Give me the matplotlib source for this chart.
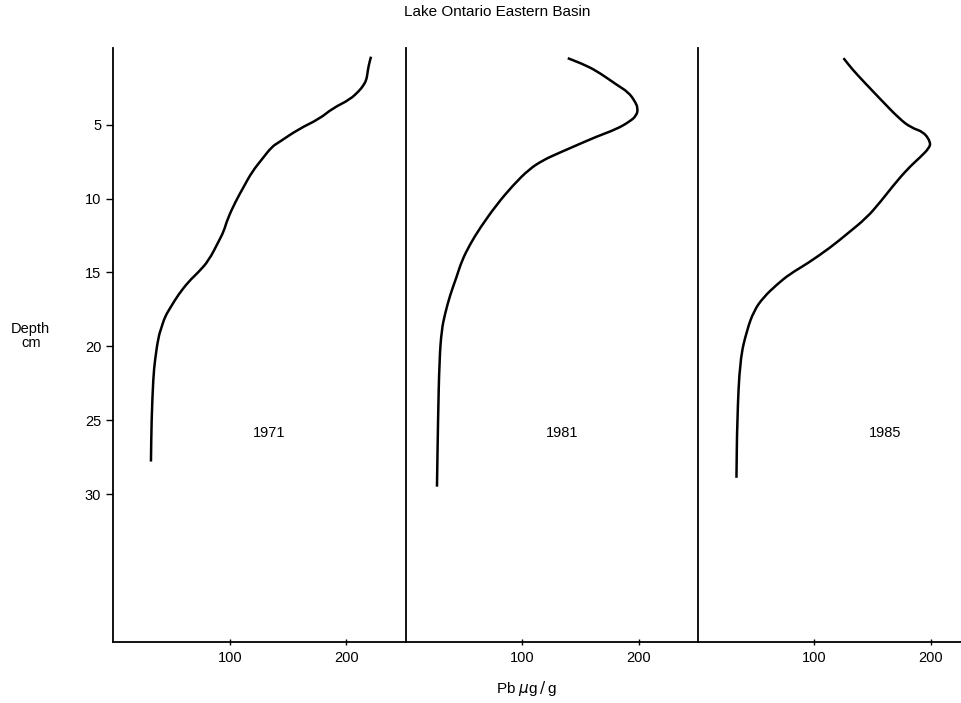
import numpy as np
import matplotlib.pyplot as plt
from matplotlib.path import Path
from matplotlib.patches import PathPatch

plt.rcParams['font.family'] = ['Liberation Sans', 'DejaVu Sans']

# Pb (ug/g) vs depth (cm)
pb_1971 = [221, 219, 218, 217, 214, 211, 203, 188, 177, 159, 142, 136, 128, 119, 112, 105, 98, 95,
           90.5, 82, 73, 65, 56, 49, 44.5, 41.6, 38.8, 36, 34.5, 33, 32.5]
depth_1971 = [0.4, 1.0, 1.5, 2.0, 2.4, 2.7, 3.3, 3.9, 4.6, 5.3, 6.2, 6.5, 7.3, 8.2, 9.2, 10.2, 11.4, 12.2,
              12.9, 14.2, 15.0, 15.6, 16.5, 17.4, 18.0, 18.7, 19.4, 20.9, 22.1, 25.0, 27.8]

pb_1981 = [139, 155, 166.5, 181, 191, 196.6, 199.4, 198, 192, 181, 164, 143.6, 129, 118, 106,
           92, 78, 63.5, 55, 48, 43.5, 38, 33.5, 30.6, 28.7, 27.5, 26.6]
depth_1981 = [0.5, 1.0, 1.5, 2.3, 2.8, 3.4, 3.9, 4.4, 4.8, 5.3, 5.8, 6.5, 7.0, 7.4, 8.0,
              9.1, 10.4, 12.0, 13.1, 14.2, 15.3, 16.5, 17.8, 18.9, 20.9, 25.0, 29.5]

pb_1985 = [125, 132.5, 142.5, 157, 173, 183, 194, 200, 198.5, 191, 180, 168, 157, 145, 128,
           114, 94, 79, 68, 56, 48, 42, 36, 33.6, 33]
depth_1985 = [0.5, 1.25, 2.1, 3.3, 4.6, 5.2, 5.5, 6.2, 6.6, 7.2, 8.0, 9.1, 10.2, 11.3, 12.4,
              13.3, 14.4, 15.1, 15.8, 16.7, 17.6, 18.9, 20.9, 25.0, 28.9]

years = ['1971', '1981', '1985']
year_label_x = [134, 134, 161]
depth_ticks = [5, 10, 15, 20, 25, 30]
pb_ticks = [100, 200]


def smooth_path(x, y):
    # quadratic bezier through midpoints, to look like a hand-drawn curve
    pts = np.column_stack([x, y])
    verts = [pts[0], (pts[0] + pts[1]) / 2]
    codes = [Path.MOVETO, Path.LINETO]
    for k in range(1, len(pts) - 1):
        verts += [pts[k], (pts[k] + pts[k + 1]) / 2]
        codes += [Path.CURVE3, Path.CURVE3]
    verts.append(pts[-1])
    codes.append(Path.LINETO)
    return Path(verts, codes)


fig = plt.figure(figsize=(9.61, 7.03), dpi=100)

bottom = 0.087
height = 0.845
lefts = [0.1176, 0.4225, 0.7264]
widths = [0.3049, 0.3039, 0.2736]
xmax = [251, 251, 226]
series = [(pb_1971, depth_1971), (pb_1981, depth_1981), (pb_1985, depth_1985)]

for i in range(3):
    ax = fig.add_axes([lefts[i], bottom, widths[i], height])
    x, y = series[i]
    ax.add_patch(PathPatch(smooth_path(x, y), facecolor='none', edgecolor='black',
                           lw=1.8, capstyle='butt'))
    ax.set_xlim(0, xmax[i])
    ax.set_ylim(40, -0.2)
    ax.spines['top'].set_visible(False)
    ax.spines['right'].set_visible(False)
    ax.spines['left'].set_linewidth(1.3)
    ax.spines['bottom'].set_linewidth(1.3)
    ax.set_xticks(pb_ticks)
    ax.tick_params(axis='x', direction='inout', length=5, width=1, labelsize=10.5, pad=4)
    if i == 0:
        ax.set_yticks(depth_ticks)
        ax.tick_params(axis='y', direction='out', length=5, width=1, labelsize=10.5)
    else:
        ax.set_yticks([])
    ax.text(year_label_x[i], 25.9, years[i], fontsize=10.5, ha='center', va='center')
    ax.patch.set_alpha(0)

fig.text(0.517, 0.983, 'Lake Ontario Eastern Basin', fontsize=11, ha='center', va='center')
fig.text(0.032, 0.522, 'Depth\ncm', fontsize=10.5, ha='center', va='center', linespacing=1.0)
fig.text(0.548, 0.021, r'Pb $\mu$g$\,/\,$g', fontsize=11, ha='center', va='center')

plt.savefig('out.png', dpi=100)
